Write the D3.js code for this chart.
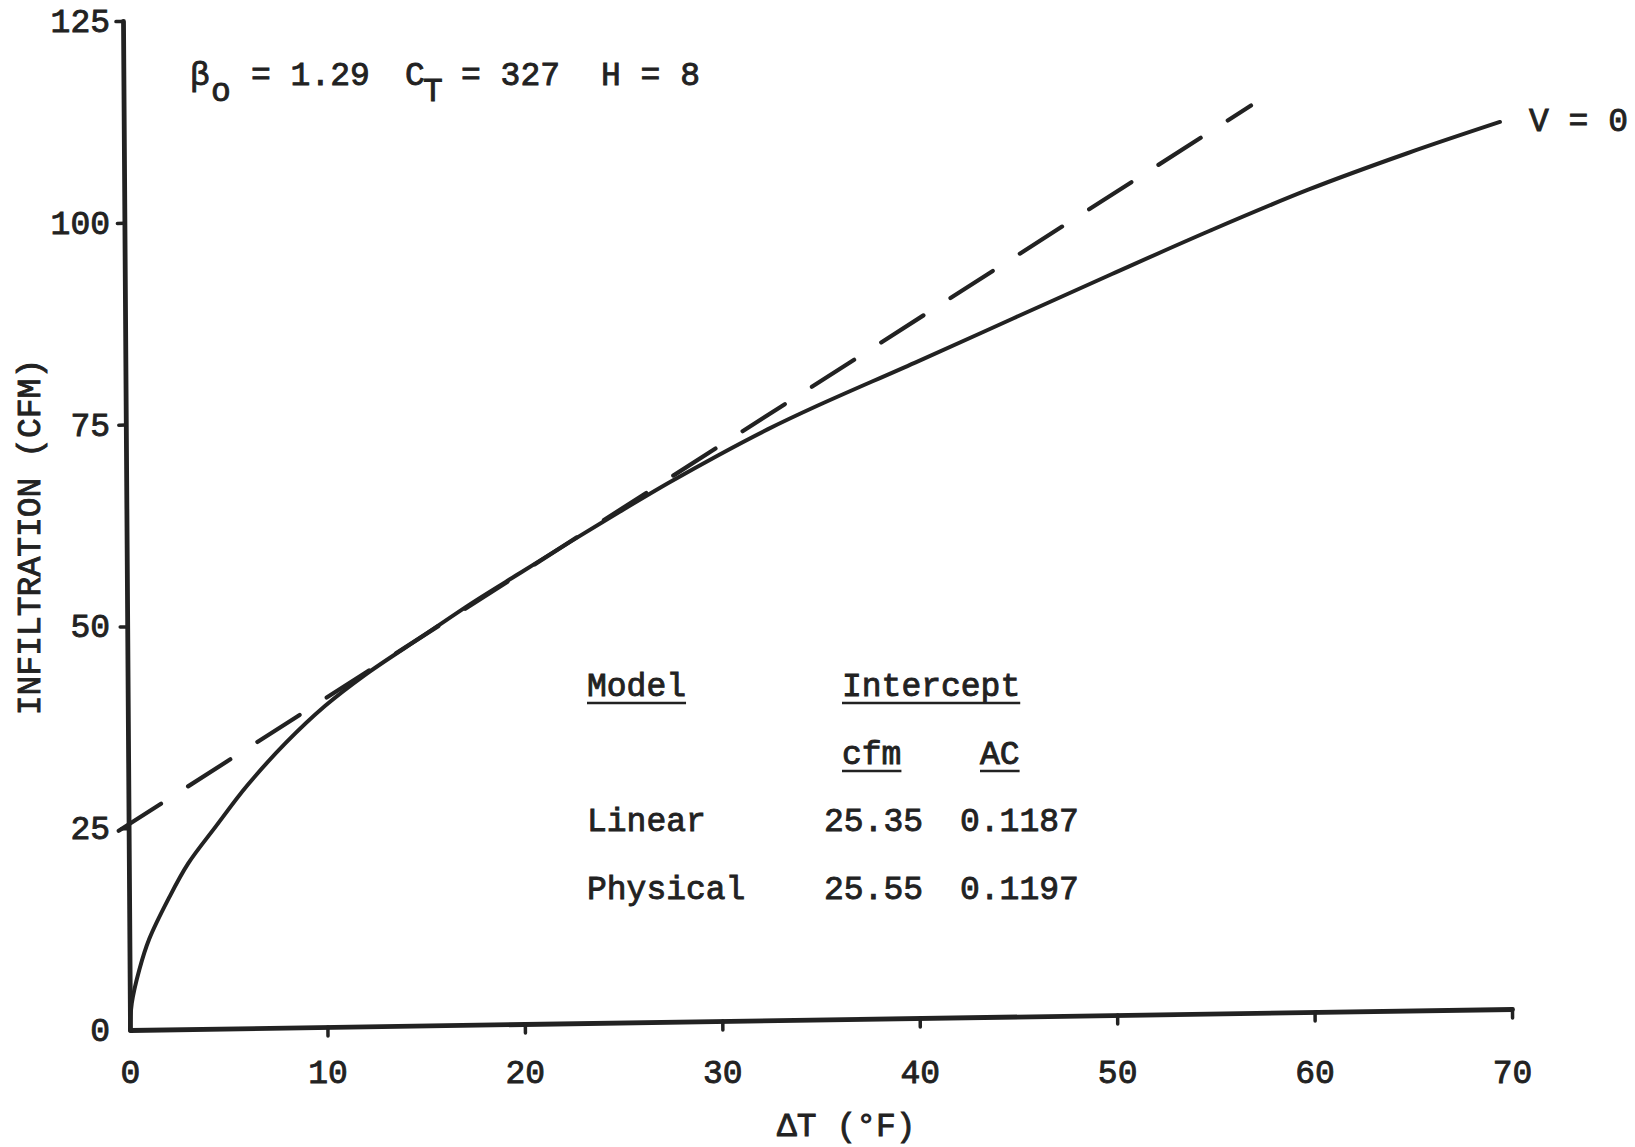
<!DOCTYPE html>
<html>
<head>
<meta charset="utf-8">
<script src="https://cdn.jsdelivr.net/npm/d3@7"></script>
<style>
    body { margin: 0; background: #fff; }
    svg text {
        font-family: "Liberation Mono", "Courier New", monospace;
        font-size: 33px;
        fill: #222;
        stroke: #222;
        stroke-width: 0.9px;
    }
</style>
</head>
<body>
<svg id="chart" width="1635" height="1147"></svg>
<script>
// V = 0 curve
var solidX = [0, 0.1, 0.5, 1, 2, 3, 4.4, 6, 8, 10, 12, 15, 17.5, 20, 22.5, 25, 27.5, 30, 32.5, 35, 40, 45, 50, 55, 60, 65, 69.7];
var solidY = [0, 3.3, 7.5, 11.2, 16.2, 20.5, 25.0, 30.0, 35.3, 39.8, 43.5, 48.3, 52.3, 56.0, 59.7, 63.3, 66.8, 70.1, 73.2, 76.0, 81.2, 86.5, 91.8, 97.0, 101.9, 106.2, 109.9];

// dashed linear fit, end points
var dashX = [-0.5, 57.1];
var dashY = [24.7, 112.4];

// axis ticks
var xTicks = [0, 10, 20, 30, 40, 50, 60, 70];
var yTicks = [0, 25, 50, 75, 100, 125];

// table
var models = ["Linear", "Physical"];
var cfm = [25.35, 25.55];
var ac = [0.1187, 0.1197];

var svg = d3.select("#chart");

var x = d3.scaleLinear().domain([0, 70]).range([0, 1382]);
var y = d3.scaleLinear().domain([0, 125]).range([0, -1009]);

// the scan is a bit skewed, so the plot sits in a slanted frame
var plot = svg.append("g")
    .attr("transform", "matrix(1,-0.0152,0.00694,1,130,1030)");

var ink = "#222";

// axes (lines + tick stubs only)
var xAxis = plot.append("g")
    .call(d3.axisBottom(x).tickValues(xTicks.slice(1)).tickSize(9).tickSizeOuter(0).tickFormat(""));
var yAxis = plot.append("g")
    .call(d3.axisLeft(y).tickValues(yTicks.slice(1)).tickSize(7).tickSizeOuter(0).tickFormat(""));

[xAxis, yAxis].forEach(g => {
    g.select(".domain").attr("stroke", ink).attr("stroke-width", 4.8).attr("stroke-linecap", "round");
    g.selectAll(".tick line").attr("stroke", ink).attr("stroke-width", 3.5).attr("stroke-linecap", "round");
});

// curves
var line = d3.line()
    .x(d => x(d[0]))
    .y(d => y(d[1]));

plot.append("path")
    .datum(d3.zip(solidX, solidY))
    .attr("d", line.curve(d3.curveCatmullRom.alpha(0.5)))
    .attr("fill", "none")
    .attr("stroke", ink)
    .attr("stroke-width", 4)
    .attr("stroke-linecap", "round");

plot.append("path")
    .datum(d3.zip(dashX, dashY))
    .attr("d", d3.line().x(d => x(d[0])).y(d => y(d[1])))
    .attr("fill", "none")
    .attr("stroke", ink)
    .attr("stroke-width", 4.2)
    .attr("stroke-linecap", "round")
    .attr("stroke-dasharray", "50,32");

// tick labels, typed straight on the page
var xLab = svg.append("g")
    .attr("transform", "translate(130,1083)")
    .call(d3.axisBottom(x).tickValues(xTicks).tickSize(0).tickPadding(0));
xLab.select(".domain").remove();
xLab.selectAll("text").attr("dy", null).attr("y", 0).attr("font-size", null);

var yLab = svg.append("g")
    .attr("transform", "translate(110,1030)")
    .call(d3.axisLeft(y).tickValues(yTicks).tickSize(0).tickPadding(0));
yLab.select(".domain").remove();
yLab.selectAll("text").attr("font-size", null);
svg.selectAll(".tick text").attr("font-family", null);

// axis titles
svg.append("text")
    .attr("x", 777)
    .attr("y", 1136)
    .text("\u0394T (\u00B0F)");

svg.append("text")
    .attr("transform", "translate(40,537) rotate(-90)")
    .attr("text-anchor", "middle")
    .text("INFILTRATION (CFM)");

// parameter line
var params = svg.append("text").attr("y", 85);
params.append("tspan").attr("x", 190).text("\u03B2");
params.append("tspan").attr("x", 211).attr("dy", 16).text("o");
params.append("tspan").attr("x", 251).attr("dy", -16).text("= 1.29");
params.append("tspan").attr("x", 405).text("C");
params.append("tspan").attr("x", 423).attr("dy", 16).text("T");
params.append("tspan").attr("x", 461).attr("dy", -16).text("= 327");
params.append("tspan").attr("x", 601).text("H = 8");

// curve label
svg.append("text")
    .attr("x", 1529)
    .attr("y", 131)
    .attr("xml:space", "preserve")
    .text("V = 0");

// table
var table = svg.append("g");
function typed(tx, ty, s, underline) {
    var t = table.append("text").attr("x", tx).attr("y", ty).text(s);
    if (underline) {
        var w = t.node().getComputedTextLength();
        table.append("line")
            .attr("x1", tx).attr("x2", tx + w)
            .attr("y1", ty + 7).attr("y2", ty + 7)
            .attr("stroke", ink)
            .attr("stroke-width", 2.5);
    }
}
typed(587, 696, "Model", true);
typed(842, 696, "Intercept", true);
typed(842, 764, "cfm", true);
typed(980, 764, "AC", true);

models.forEach((m, i) => {
    var ty = 831 + i * 68;
    typed(587, ty, m);
    typed(824, ty, d3.format(".2f")(cfm[i]));
    typed(960, ty, d3.format(".4f")(ac[i]));
});
</script>
</body>
</html>
